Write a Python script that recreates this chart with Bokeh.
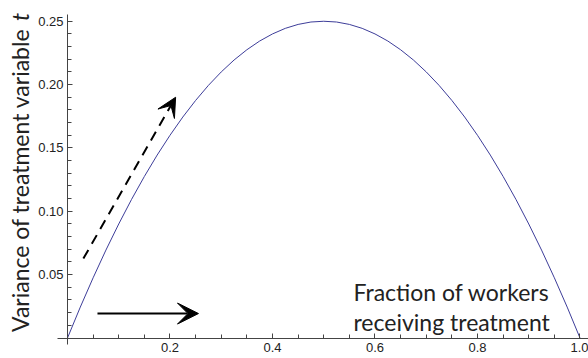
import math
from bokeh.plotting import figure
from bokeh.models import (Label, Arrow, VeeHead, FixedTicker, NumeralTickFormatter, Range1d)
from bokeh.embed import file_html
from bokeh.resources import INLINE

# fraction treated p and variance of treatment variable
p_vals = [0.0, 0.025, 0.05, 0.075, 0.1, 0.125, 0.15, 0.175, 0.2, 0.225, 0.25,
          0.275, 0.3, 0.325, 0.35, 0.375, 0.4, 0.425, 0.45, 0.475, 0.5,
          0.525, 0.55, 0.575, 0.6, 0.625, 0.65, 0.675, 0.7, 0.725, 0.75,
          0.775, 0.8, 0.825, 0.85, 0.875, 0.9, 0.925, 0.95, 0.975, 1.0]
var_vals = [0.0, 0.0244, 0.0475, 0.0694, 0.09, 0.1094, 0.1275, 0.1444, 0.16, 0.1744, 0.1875,
            0.1994, 0.21, 0.2194, 0.2275, 0.2344, 0.24, 0.2444, 0.2475, 0.2494, 0.25,
            0.2494, 0.2475, 0.2444, 0.24, 0.2344, 0.2275, 0.2194, 0.21, 0.1994, 0.1875,
            0.1744, 0.16, 0.1444, 0.1275, 0.1094, 0.09, 0.0694, 0.0475, 0.0244, 0.0]

x_ticks = [0.2, 0.4, 0.6, 0.8, 1.0]
x_minor = [0.05, 0.1, 0.15, 0.25, 0.3, 0.35, 0.45, 0.5, 0.55, 0.65, 0.7, 0.75, 0.85, 0.9, 0.95]
y_ticks = [0.05, 0.10, 0.15, 0.20, 0.25]
y_minor = [0.01, 0.02, 0.03, 0.04, 0.06, 0.07, 0.08, 0.09, 0.11, 0.12, 0.13, 0.14,
           0.16, 0.17, 0.18, 0.19, 0.21, 0.22, 0.23, 0.24]

y_title = "Variance of treatment variable"
y_title_var = "t"
x_title_lines = ["Fraction of workers", "receiving treatment"]

FONT = "Lato"
TSIZE = "23px"

p = figure(width=588, height=358, output_backend="svg", toolbar_location=None,
           x_range=Range1d(-0.1307, 1.0166), y_range=Range1d(-0.01618, 0.26638),
           min_border=0)
p.outline_line_color = None
p.grid.visible = False
p.background_fill_color = "white"
p.border_fill_color = "white"

p.line(p_vals, var_vals, line_color="#3d3d99", line_width=1)

axis_col = "#444444"
for ax in (p.xaxis[0], p.yaxis[0]):
    ax.fixed_location = 0
    ax.axis_line_color = axis_col
    ax.major_tick_line_color = axis_col
    ax.minor_tick_line_color = axis_col
    ax.major_tick_in = 5
    ax.major_tick_out = 0
    ax.minor_tick_in = 4
    ax.minor_tick_out = 0
    ax.major_label_text_font = "Liberation Sans"
    ax.major_label_text_font_size = "13px"
    ax.major_label_text_color = "#222222"
p.xaxis[0].bounds = (-0.0195, 1.0166)
p.yaxis[0].bounds = (-0.0051, 0.2553)
p.xaxis[0].ticker = FixedTicker(ticks=x_ticks, minor_ticks=x_minor)
p.yaxis[0].ticker = FixedTicker(ticks=y_ticks, minor_ticks=y_minor)
p.xaxis[0].formatter = NumeralTickFormatter(format="0.0")
p.yaxis[0].formatter = NumeralTickFormatter(format="0.00")
p.xaxis[0].major_label_standoff = 5
p.yaxis[0].major_label_standoff = 4

# y-axis title (rotated), with italic t
p.add_layout(Label(x=-0.0936, y=0.2443, text=y_title, angle=math.pi / 2,
                   text_align="right", text_baseline="alphabetic",
                   text_font=FONT, text_font_size=TSIZE, text_color="#222222"))
p.add_layout(Label(x=-0.0936, y=0.2502, text=y_title_var, angle=math.pi / 2,
                   text_align="left", text_baseline="alphabetic", text_font_style="italic",
                   text_font=FONT, text_font_size=TSIZE, text_color="#222222"))

# x title inside the plot
p.add_layout(Label(x=0.558, y=0.0361, text=x_title_lines[0], text_align="left",
                   text_baseline="alphabetic", text_font=FONT, text_font_size=TSIZE,
                   text_color="#222222"))
p.add_layout(Label(x=0.558, y=0.0125, text=x_title_lines[1], text_align="left",
                   text_baseline="alphabetic", text_font=FONT, text_font_size=TSIZE,
                   text_color="#222222"))

# arrows
p.add_layout(Arrow(x_start=0.031, y_start=0.0627, x_end=0.211, y_end=0.19,
                   line_width=2, line_dash="10 7", line_color="black",
                   end=VeeHead(size=19, fill_color="black", line_color="black", line_width=1)))
p.add_layout(Arrow(x_start=0.0585, y_start=0.0193, x_end=0.2556, y_end=0.0193,
                   line_width=2, line_color="black",
                   end=VeeHead(size=21, fill_color="black", line_color="black", line_width=1)))

open("out.html", "w").write(file_html(p, INLINE))
